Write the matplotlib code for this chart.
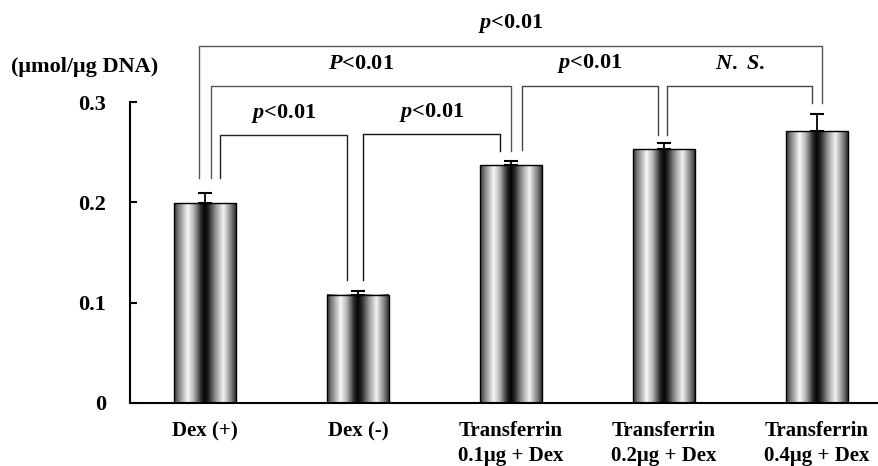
import matplotlib.pyplot as plt
import numpy as np

plt.rcParams['font.family'] = ['Liberation Serif', 'DejaVu Serif']
plt.rcParams['font.weight'] = 'bold'
plt.rcParams['mathtext.fontset'] = 'custom'
plt.rcParams['mathtext.it'] = 'Liberation Serif:italic:bold'
plt.rcParams['mathtext.rm'] = 'Liberation Serif:bold'

groups = ['Dex (+)', 'Dex (-)', 'Transferrin\n0.1\u03bcg + Dex',
          'Transferrin\n0.2\u03bcg + Dex', 'Transferrin\n0.4\u03bcg + Dex']
means = [0.199, 0.108, 0.237, 0.253, 0.271]
errs = [0.010, 0.004, 0.004, 0.006, 0.017]
yticks = [0, 0.1, 0.2, 0.3]
ytick_labels = ['0', '0.1', '0.2', '0.3']

# comparison brackets: (left bar, right bar, label)
pairs = [(0, 4, r'$p$<0.01'),
         (0, 2, r'$P$<0.01'),
         (0, 1, r'$p$<0.01'),
         (1, 2, r'$p$<0.01'),
         (2, 3, r'$p$<0.01'),
         (3, 4, r'$N.\ S.$')]
# offsets from bar centres, bracket height and leg ends
br_dx = [(-0.04, 0.03), (0.04, 0.0), (0.10, -0.07), (0.03, -0.07), (0.07, -0.04), (0.02, -0.03)]
br_y = [0.356, 0.316, 0.267, 0.268, 0.316, 0.316]
br_legs = [(0.224, 0.299), (0.224, 0.251), (0.224, 0.123), (0.123, 0.251), (0.252, 0.267), (0.267, 0.299)]
br_col = ['#555555', '#555555', '#222222', '#111111', '#444444', '#444444']

fig = plt.figure(figsize=(8.79, 4.66), dpi=100)
ax = fig.add_axes([0.148, 0.1352, 0.852, 0.6458])

x = np.arange(len(means))
w = 0.405

# cylinder style shading
pos = [0, 0.06, 0.22, 0.32, 0.44, 0.5, 0.56, 0.68, 0.8, 0.94, 1]
val = [0.2, 0.45, 0.97, 0.7, 0.15, 0.02, 0.15, 0.6, 0.95, 0.45, 0.2]
grad = np.interp(np.linspace(0, 1, 200), pos, val)[None, :]

for xi, m in zip(x, means):
    ax.imshow(grad, extent=[xi - w / 2, xi + w / 2, 0, m], aspect='auto',
              cmap='gray', vmin=0, vmax=1, zorder=2)
    ax.add_patch(plt.Rectangle((xi - w / 2, 0), w, m, fill=False,
                               edgecolor='black', lw=1.0, zorder=3))

ax.errorbar(x, means, yerr=[np.zeros(len(errs)), errs], fmt='none',
            ecolor='black', elinewidth=1.3, capsize=5, capthick=1.5, zorder=4)

for (i, j, lab), (dl, dr), yb, (l0, l1), c in zip(pairs, br_dx, br_y, br_legs, br_col):
    xl = x[i] + dl
    xr = x[j] + dr
    ax.plot([xl, xl, xr, xr], [l0, yb, yb, l1], color=c, lw=1.0,
            clip_on=False, zorder=5)
    ax.text((xl + xr) / 2, yb + 0.022, lab, ha='center', va='center',
            fontsize=16, fontweight='bold')

ax.set_xlim(-0.49, 4.405)
ax.set_ylim(0, 0.3)
ax.set_yticks(yticks)
ax.set_yticklabels(ytick_labels, fontsize=16, fontweight='bold')
ax.set_xticks(x)
ax.set_xticklabels(groups, fontsize=15, fontweight='bold', va='top', ha='center',
                   linespacing=1.3)
ax.tick_params(axis='y', direction='in', length=5, width=1.5, pad=17)
ax.tick_params(axis='x', length=0, pad=13)
for lab in ax.get_xticklabels():
    lab.set_multialignment('left')
ax.spines['top'].set_visible(False)
ax.spines['right'].set_visible(False)
ax.spines['left'].set_linewidth(1.5)
ax.spines['bottom'].set_linewidth(1.5)

fig.text(0.013, 0.857, '(\u03bcmol/\u03bcg DNA)', fontsize=16, fontweight='bold',
         ha='left', va='center')

fig.savefig('out.png', dpi=100)
